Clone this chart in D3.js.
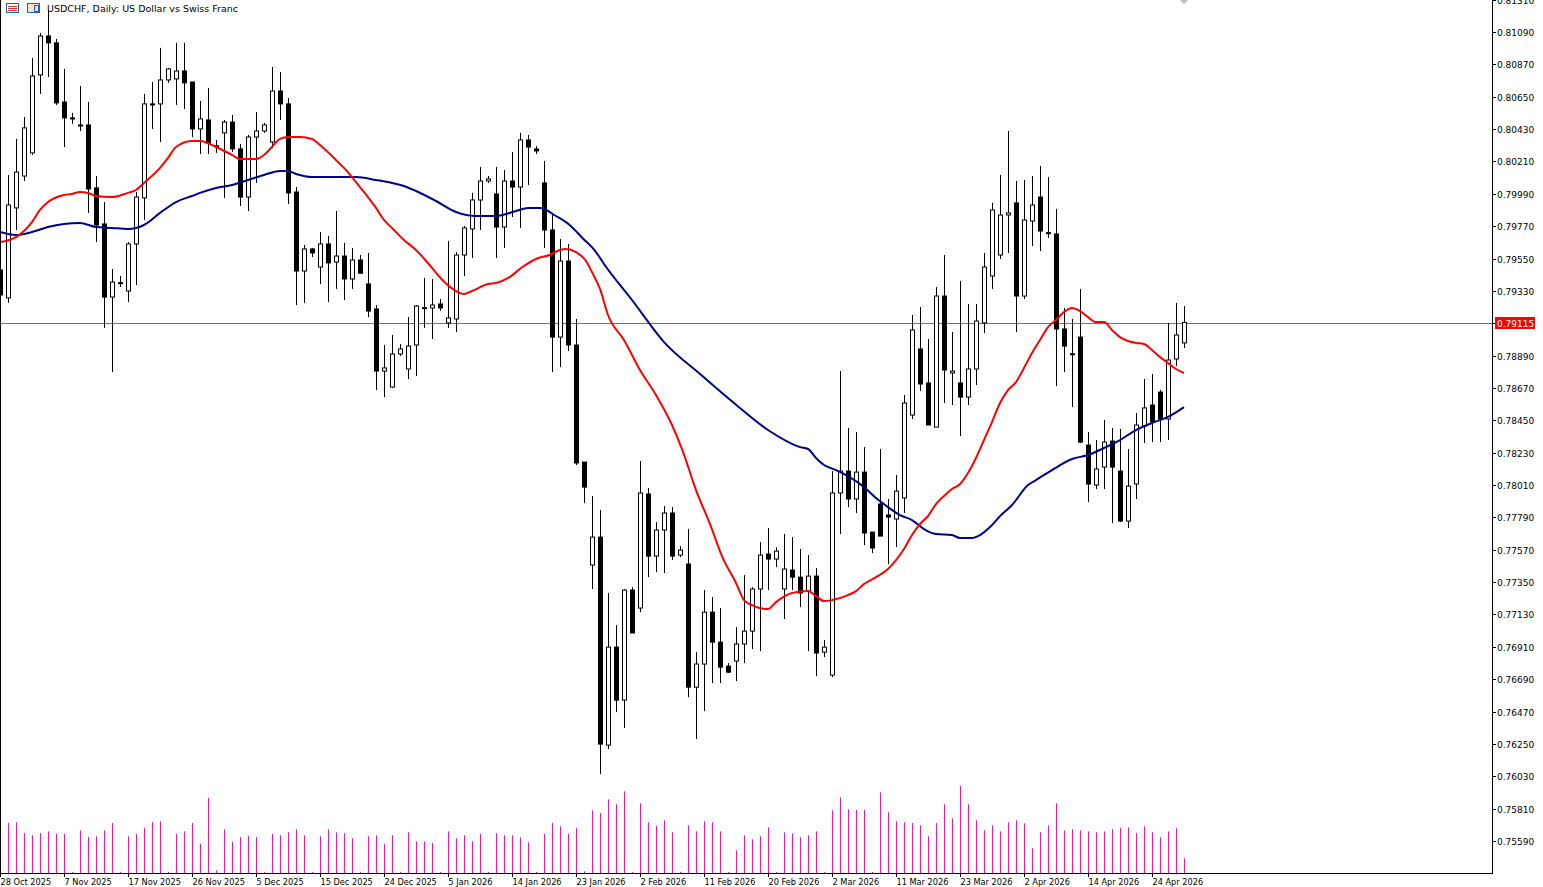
<!DOCTYPE html>
<html><head><meta charset="utf-8">
<script src="https://cdn.jsdelivr.net/npm/d3@7/dist/d3.min.js"></script>
<style>html,body{margin:0;padding:0;background:#fff;overflow:hidden}svg{display:block}</style>
</head><body>
<svg id="c" width="1543" height="887"></svg>
<script>
const title = "USDCHF, Daily:  US Dollar vs Swiss Franc";
const openP = [0.79472,0.79282,0.79894,0.80111,0.80268,0.80798,0.81063,0.81016,0.80614,0.80506,
0.80458,0.80458,0.80030,0.79785,0.79288,0.79384,0.79329,0.79649,0.79962,0.80601,
0.80601,0.80764,0.80771,0.80825,0.80750,0.80431,0.80492,0.80315,0.80404,0.80478,
0.80295,0.79968,0.80376,0.80417,0.80342,0.80689,0.80601,0.80002,0.79465,0.79615,
0.79492,0.79649,0.79526,0.79567,0.79411,0.79540,0.79377,0.79207,0.78785,0.78676,
0.78901,0.78799,0.78962,0.79214,0.79214,0.79241,0.79112,0.79139,0.79574,0.79751,
0.79948,0.80077,0.79989,0.79764,0.80077,0.80036,0.80356,0.80295,0.80064,0.79744,
0.79016,0.79533,0.78962,0.78166,0.77466,0.77656,0.76242,0.76908,0.76548,0.77296,
0.77174,0.77949,0.77527,0.77704,0.77820,0.77534,0.77473,0.76636,0.76793,0.77146,
0.76942,0.76779,0.76813,0.76929,0.77017,0.77303,0.77541,0.77507,0.77303,0.77432,
0.77384,0.77289,0.77391,0.76874,0.76718,0.77956,0.78105,0.77915,0.78098,0.77690,
0.77881,0.77806,0.77779,0.77922,0.78486,0.78935,0.78704,0.78404,0.79295,0.78772,
0.78704,0.78608,0.78799,0.79112,0.79431,0.79574,0.79846,0.79928,0.79295,0.79805,
0.79968,0.79724,0.79717,0.79071,0.78901,0.79016,0.78282,0.78010,0.78132,0.78309,
0.78105,0.77765,0.78017,0.78411,0.78554,0.78642,0.78459,0.78867,0.78976];
const highP = [0.79526,0.80118,0.80363,0.80512,0.80914,0.81084,0.81240,0.81043,0.80839,0.80540,
0.80723,0.80614,0.80111,0.79934,0.79479,0.79431,0.79662,0.80002,0.80669,0.80750,
0.80982,0.80846,0.81016,0.81016,0.80750,0.80621,0.80710,0.80356,0.80492,0.80526,
0.80329,0.80390,0.80546,0.80472,0.80852,0.80818,0.80642,0.80036,0.79642,0.79622,
0.79730,0.79703,0.79873,0.79656,0.79622,0.79574,0.79588,0.79234,0.78962,0.79030,
0.78969,0.79152,0.79234,0.79418,0.79411,0.79275,0.79669,0.79594,0.79771,0.79996,
0.80172,0.80111,0.80172,0.80152,0.80274,0.80404,0.80390,0.80315,0.80213,0.79846,
0.79683,0.79649,0.79139,0.78166,0.77935,0.77840,0.77276,0.77058,0.77303,0.77316,
0.78173,0.77990,0.77758,0.77867,0.77860,0.77595,0.77711,0.76874,0.77296,0.77248,
0.77174,0.76800,0.77044,0.77398,0.77316,0.77622,0.77718,0.77588,0.77677,0.77656,
0.77575,0.77534,0.77446,0.76956,0.78105,0.78785,0.78398,0.78370,0.78268,0.77690,
0.78255,0.77915,0.78078,0.78622,0.79166,0.79220,0.79003,0.79356,0.79574,0.79050,
0.79397,0.79241,0.79241,0.79588,0.79928,0.80118,0.80417,0.80077,0.80084,0.80111,
0.80179,0.80104,0.79887,0.79214,0.79139,0.79343,0.78370,0.78316,0.78452,0.78398,
0.78391,0.78255,0.78500,0.78731,0.78765,0.78656,0.79112,0.79248,0.79227];
const lowP = [0.79268,0.79248,0.79744,0.80077,0.80254,0.80669,0.80784,0.80594,0.80308,0.80465,
0.80417,0.79860,0.79662,0.79078,0.78778,0.79356,0.79254,0.79370,0.79812,0.80431,
0.80342,0.80744,0.80594,0.80567,0.80376,0.80261,0.80261,0.80268,0.79962,0.80274,
0.79907,0.79873,0.80064,0.80404,0.80302,0.80492,0.79921,0.79234,0.79248,0.79560,
0.79377,0.79254,0.79343,0.79268,0.79343,0.79450,0.79152,0.78656,0.78608,0.78670,
0.78887,0.78731,0.78751,0.79078,0.79003,0.79193,0.79078,0.79050,0.79431,0.79554,
0.79744,0.80064,0.79554,0.79622,0.79832,0.79758,0.80050,0.80261,0.79622,0.78778,
0.78812,0.78921,0.78146,0.77888,0.77303,0.76045,0.76215,0.76466,0.76358,0.77004,
0.77146,0.77384,0.77418,0.77412,0.77500,0.77520,0.76568,0.76283,0.76473,0.76664,
0.76664,0.76732,0.76677,0.76800,0.76895,0.76881,0.77296,0.77452,0.77099,0.77296,
0.77180,0.76881,0.76711,0.76840,0.76704,0.77677,0.77860,0.77820,0.77602,0.77548,
0.77663,0.77473,0.77588,0.77820,0.78459,0.78649,0.78418,0.78404,0.78568,0.78554,
0.78343,0.78554,0.78690,0.79044,0.79343,0.79547,0.79588,0.79050,0.79275,0.79635,
0.79601,0.79690,0.78683,0.78778,0.78540,0.78296,0.77894,0.77983,0.77983,0.77752,
0.77758,0.77718,0.77915,0.78296,0.78302,0.78302,0.78316,0.78819,0.78942];
const closeP = [0.79302,0.79914,0.80138,0.80438,0.80791,0.81063,0.81016,0.80608,0.80506,0.80499,
0.80451,0.80023,0.79778,0.79288,0.79390,0.79386,0.79649,0.79968,0.80601,0.80599,
0.80764,0.80839,0.80825,0.80744,0.80431,0.80499,0.80336,0.80317,0.80478,0.80295,
0.79968,0.80376,0.80417,0.80458,0.80689,0.80601,0.79996,0.79465,0.79615,0.79588,
0.79649,0.79520,0.79567,0.79411,0.79540,0.79450,0.79193,0.78785,0.78806,0.78901,
0.78935,0.78955,0.79227,0.79216,0.79234,0.79214,0.79146,0.79574,0.79758,0.79948,
0.80077,0.80091,0.79764,0.80077,0.80036,0.80356,0.80308,0.80281,0.79744,0.79016,
0.79533,0.78962,0.78160,0.77996,0.77656,0.76249,0.76908,0.76548,0.77296,0.77004,
0.77956,0.77527,0.77704,0.77820,0.77527,0.77568,0.76636,0.76793,0.77146,0.76942,
0.76772,0.76738,0.76929,0.77017,0.77303,0.77534,0.77507,0.77561,0.77439,0.77384,
0.77276,0.77391,0.76868,0.76908,0.77956,0.78105,0.77915,0.78098,0.77684,0.77582,
0.77663,0.77792,0.77969,0.78568,0.79064,0.78697,0.78418,0.79295,0.78792,0.78785,
0.78608,0.78799,0.79125,0.79492,0.79880,0.79846,0.79860,0.79295,0.79812,0.79914,
0.79737,0.79726,0.79071,0.78955,0.78903,0.78302,0.78017,0.78119,0.78302,0.78132,
0.77765,0.78003,0.78418,0.78534,0.78438,0.78459,0.78860,0.79030,0.79115];
const volume = [150,150,152,120,113,120,125,117,117,3,128,108,110,128,150,3,110,117,135,153,155,3,117,125,150,87,225,8,131,93,108,111,108,3,117,113,122,131,113,3,110,131,122,120,104,3,110,113,87,113,3,122,95,95,90,3,125,104,113,95,117,3,120,113,113,107,92,3,117,150,140,117,135,5,188,180,221,206,245,3,209,152,141,158,122,3,143,125,155,152,125,3,68,113,101,110,137,3,122,119,107,113,125,3,188,227,191,189,189,3,242,182,155,152,150,143,110,150,206,164,261,206,158,128,143,125,152,158,149,74,122,143,209,128,131,128,125,122,125,132,135,137,120,140,122,107,125,134,44];
const maFastIdx = [0,2,4,5,6,8,9,10,11,12,14,16,17,18,20,21,22,24,25,27,29,30,32,33,34,35,36,37.5,39,40,42,43,44,45,46,47,48,49,50.5,52,53.7,55.3,57,58,59,61,62,63.7,65.3,67,68.7,70,70.75,72,73.25,74,75,76,78,80,82,84,85.3,87,88.7,90.3,92,93,94,96,97,99,101,102,103,104,106,107,108,109.5,111,112,113,114,115,116,117,118,119,120,121,122,123,124,125,126,127,128,129,130,131,132,133,134,135,136,137,138,139,140,141,142,143,144,145,146,147,148];
const maFast = [0.79662,0.79696,0.79798,0.79880,0.79934,0.79982,0.79989,0.80002,0.79996,0.79975,0.79968,0.79996,0.80016,0.80064,0.80166,0.80234,0.80308,0.80349,0.80349,0.80308,0.80254,0.80227,0.80227,0.80254,0.80308,0.80363,0.80376,0.80376,0.80363,0.80322,0.80220,0.80166,0.80104,0.80036,0.79968,0.79894,0.79812,0.79758,0.79676,0.79608,0.79506,0.79404,0.79329,0.79309,0.79329,0.79377,0.79384,0.79424,0.79492,0.79547,0.79574,0.79608,0.79615,0.79594,0.79533,0.79458,0.79343,0.79166,0.78996,0.78792,0.78622,0.78418,0.78248,0.77976,0.77752,0.77520,0.77344,0.77228,0.77194,0.77167,0.77214,0.77276,0.77289,0.77255,0.77221,0.77228,0.77262,0.77289,0.77337,0.77384,0.77439,0.77500,0.77575,0.77670,0.77745,0.77799,0.77881,0.77935,0.77983,0.78017,0.78092,0.78194,0.78316,0.78438,0.78568,0.78656,0.78710,0.78806,0.78908,0.78996,0.79084,0.79132,0.79186,0.79214,0.79193,0.79152,0.79118,0.79118,0.79064,0.79016,0.78989,0.78976,0.78969,0.78928,0.78880,0.78840,0.78799,0.78772];
const maSlowIdx = [0,2,4,6,8,10,12,14,16,18,20,22,24,25,27,29,31,33,35,36,37,39,42,44.5,47,49,50.5,52,54.5,57,59.5,62,64.5,66,67.5,69.5,71.2,72.8,74.5,75.5,79,83,87.5,91.6,96,100,101,102,103,104.5,106,108,109.5,111,112.5,114,115.5,117,119,120,121.5,122.5,124,125,126.5,128.5,129.5,131.5,134,136,138,140,142,144,146,148];
const maSlow = [0.79730,0.79710,0.79730,0.79764,0.79785,0.79792,0.79764,0.79758,0.79751,0.79778,0.79860,0.79934,0.79975,0.79996,0.80030,0.80050,0.80084,0.80118,0.80145,0.80145,0.80125,0.80104,0.80104,0.80104,0.80084,0.80064,0.80043,0.80009,0.79941,0.79866,0.79839,0.79839,0.79873,0.79894,0.79894,0.79839,0.79778,0.79690,0.79594,0.79513,0.79268,0.78982,0.78765,0.78574,0.78384,0.78268,0.78255,0.78194,0.78146,0.78112,0.78071,0.77997,0.77922,0.77860,0.77806,0.77772,0.77711,0.77677,0.77670,0.77650,0.77650,0.77670,0.77738,0.77799,0.77874,0.78010,0.78044,0.78112,0.78187,0.78214,0.78262,0.78316,0.78384,0.78432,0.78473,0.78540];
const dateLabels = ["28 Oct 2025","7 Nov 2025","17 Nov 2025","26 Nov 2025","5 Dec 2025","15 Dec 2025","24 Dec 2025","5 Jan 2026","14 Jan 2026","23 Jan 2026","2 Feb 2026","11 Feb 2026","20 Feb 2026","2 Mar 2026","11 Mar 2026","23 Mar 2026","2 Apr 2026","14 Apr 2026","24 Apr 2026"];
const dateLabelIdx = [0,8,16,24,32,40,48,56,64,72,80,88,96,104,112,120,128,136,144];
const priceTicks = [0.75590,0.75810,0.76030,0.76250,0.76470,0.76690,0.76910,0.77130,0.77350,0.77570,0.77790,0.78010,0.78230,0.78450,0.78670,0.78890,0.79110,0.79330,0.79550,0.79770,0.79990,0.80210,0.80430,0.80650,0.80870,0.81090,0.81310];
const lastPrice = 0.79115;

const svg = d3.select("#c");
const W = 1543, H = 887, plotR = 1492, plotB = 873;
const font = "'DejaVu Sans', sans-serif";
const x = d3.scaleLinear().domain([0, 148]).range([0, 1184]);
const y = d3.scaleLinear().domain([0.7559, 0.8109]).range([841, 32]);
const yv = d3.scaleLinear().domain([0, 300]).range([plotB, plotB - 100]);

svg.append("rect").attr("width", W).attr("height", H).attr("fill", "#fff");
svg.append("defs").append("clipPath").attr("id","clip").append("rect").attr("x",0).attr("y",0).attr("width",plotR).attr("height",plotB);
const plot = svg.append("g").attr("clip-path","url(#clip)");

plot.selectAll("line.v").data(volume).join("line")
  .attr("x1", (d,i)=>Math.round(x(i))+0.5).attr("x2",(d,i)=>Math.round(x(i))+0.5)
  .attr("y1", plotB).attr("y2", d=>yv(d)).attr("stroke", "#ff1493").attr("stroke-width", 1);

plot.append("line").attr("x1",0).attr("x2",plotR).attr("y1",Math.round(y(lastPrice))+0.5).attr("y2",Math.round(y(lastPrice))+0.5)
  .attr("stroke","#e00000").attr("stroke-width",1).attr("opacity",0.75);

const idx = d3.range(openP.length);
const cg = plot.append("g");
idx.forEach(i=>{
  const cx = Math.round(x(i))+0.5;
  const o=openP[i], c=closeP[i];
  const bull = c>=o;
  cg.append("line").attr("x1",cx).attr("x2",cx).attr("y1",y(highP[i])).attr("y2",y(lowP[i])).attr("stroke","#000").attr("stroke-width",1);
  const top = y(Math.max(o,c)), bot = y(Math.min(o,c));
  const h = Math.max(1, bot-top);
  cg.append("rect").attr("x",cx-2).attr("y",top).attr("width",4).attr("height",h)
    .attr("fill", bull?"#fff":"#000").attr("stroke","#000").attr("stroke-width",1);
});

const line = d3.line().x(d=>x(d[0])).y(d=>y(d[1])).curve(d3.curveMonotoneX);
plot.append("path").attr("d", line(maSlowIdx.map((v,i)=>[v,maSlow[i]]))).attr("fill","none").attr("stroke","#00008b").attr("stroke-width",2);
plot.append("path").attr("d", line(maFastIdx.map((v,i)=>[v,maFast[i]]))).attr("fill","none").attr("stroke","#ff0000").attr("stroke-width",2);

svg.append("line").attr("x1",plotR+0.5).attr("x2",plotR+0.5).attr("y1",0).attr("y2",plotB+1).attr("stroke","#000");
svg.append("line").attr("x1",0).attr("x2",plotR+1).attr("y1",plotB+0.5).attr("y2",plotB+0.5).attr("stroke","#000");
svg.append("line").attr("x1",0.5).attr("x2",0.5).attr("y1",0).attr("y2",plotB).attr("stroke","#000");

const ya = svg.append("g");
priceTicks.forEach(t=>{
  const yy = Math.round(y(t))+0.5;
  ya.append("line").attr("x1",plotR).attr("x2",plotR+4).attr("y1",yy).attr("y2",yy).attr("stroke","#000");
  ya.append("text").attr("x",plotR+5).attr("y",yy+3.5).text(t.toFixed(5)).attr("font-family",font).attr("font-size","9px").attr("fill","#000");
});
const ly = Math.round(y(lastPrice));
ya.append("rect").attr("x",plotR+3).attr("y",ly-6).attr("width",40).attr("height",12).attr("fill","#ff0000");
ya.append("text").attr("x",plotR+5).attr("y",ly+3.5).text(lastPrice.toFixed(5)).attr("font-family",font).attr("font-size","9px").attr("fill","#fff");

dateLabels.forEach((lab,k)=>{
  const xx = Math.round(x(dateLabelIdx[k]))+0.5;
  svg.append("line").attr("x1",xx).attr("x2",xx).attr("y1",plotB).attr("y2",plotB+4).attr("stroke","#000");
  svg.append("text").attr("x",xx).attr("y",885).text(lab).attr("font-family",font).attr("font-size","8.2px").attr("fill","#000");
});

const ic = svg.append("g");
ic.append("rect").attr("x",6.5).attr("y",3.5).attr("width",12).attr("height",9).attr("fill","#fff").attr("stroke","#2a5db0");
[6,8,10].forEach(yy=>{ic.append("line").attr("x1",8).attr("x2",17).attr("y1",yy+0.5).attr("y2",yy+0.5).attr("stroke","#e03030");});
ic.append("rect").attr("x",27.5).attr("y",3.5).attr("width",12).attr("height",9).attr("fill","#fde0d8").attr("stroke","#2a5db0");
ic.append("rect").attr("x",34.5).attr("y",5.5).attr("width",4).attr("height",6).attr("fill","#cfe6ff").attr("stroke","#2a5db0");
svg.append("text").attr("x",47).attr("y",12).text(title).attr("font-family",font).attr("font-size","9.5px").attr("fill","#000");
svg.append("path").attr("d","M1180,0 L1188,0 L1184,4 Z").attr("fill","#bbb");
</script>
</body></html>
